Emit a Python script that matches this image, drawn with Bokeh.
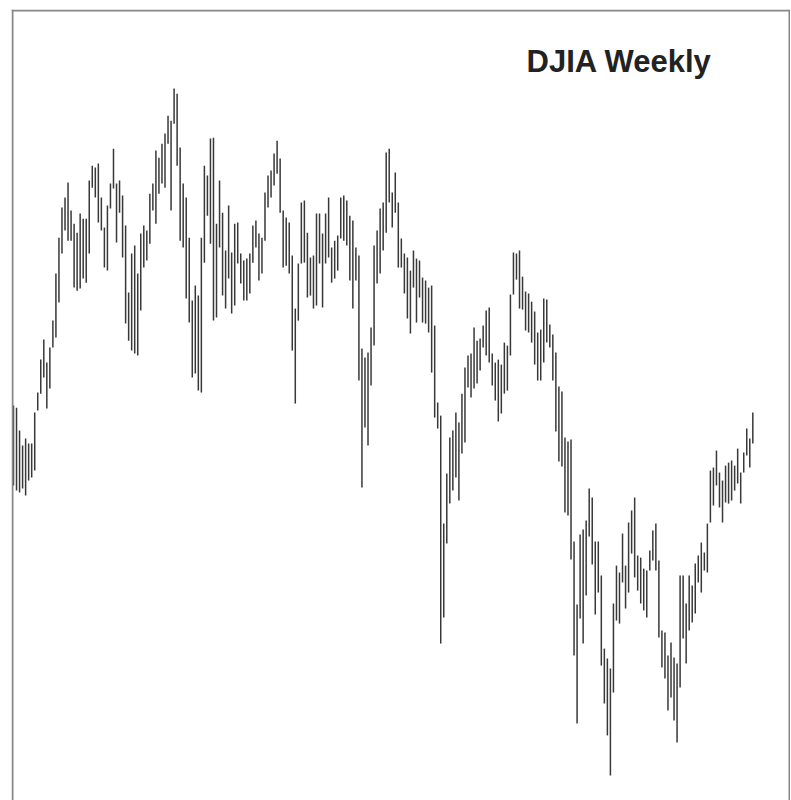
from bokeh.plotting import figure
from bokeh.models import Range1d, Label, Span
from bokeh.embed import file_html
from bokeh.resources import INLINE

# Weekly high / low of the DJIA, one entry per week
highs = [
    9645, 9631, 9479, 9379, 9426, 9392, 9392, 9598, 9731, 9950,
    10083, 9930, 10030, 10209, 10521, 10760, 10960, 11026, 11126, 10940,
    10853, 10793, 10920, 10886, 10886, 11139, 11238, 11225, 11252, 11026,
    10827, 10973, 11119, 11351, 11119, 11139, 11039, 10840, 10395, 10654,
    10707, 10521, 10787, 10840, 10807, 11052, 11119, 11338, 11291, 11384,
    11451, 11570, 11537, 11750, 11716, 11358, 11119, 11026, 10760, 10342,
    10442, 10375, 10760, 11238, 11172, 11418, 11424, 10853, 11139, 10926,
    10674, 10973, 10661, 10853, 10860, 10654, 10608, 10621, 10654, 10840,
    10873, 10787, 10760, 11059, 11172, 11205, 11318, 11404, 11285, 10940,
    10893, 10860, 10641, 10289, 10588, 10993, 11006, 10793, 10628, 10641,
    10920, 10920, 10787, 10920, 11026, 10694, 10740, 10774, 11026, 11039,
    11006, 10906, 10873, 10694, 10641, 10023, 9964, 9997, 10163, 10707,
    10807, 10953, 10993, 11325, 11351, 11059, 11192, 10993, 10754, 10654,
    10628, 10541, 10674, 10621, 10608, 10495, 10475, 10428, 10442, 10176,
    9665, 9578, 8861, 9193, 9432, 9479, 9598, 9532, 9724, 9897,
    9977, 9990, 10163, 10076, 10090, 10176, 10276, 10296, 9990, 9930,
    9950, 9917, 10063, 10043, 10382, 10661, 10654, 10674, 10501, 10402,
    10389, 10335, 10269, 10130, 10149, 10355, 10349, 10183, 10116, 9997,
    9771, 9738, 9432, 9406, 9419, 8742, 8323, 8788, 8821, 8881,
    9094, 9034, 8742, 8742, 8516, 8031, 7965, 7899, 8330, 8582,
    8536, 8795, 8582, 8868, 8948, 9034, 8649, 8635, 8562, 8549,
    8682, 8815, 8861, 8616, 8151, 8137, 7985, 8071, 7972, 7932,
    8516, 8516, 8330, 8516, 8450, 8596, 8649, 8735, 8669, 8861,
    9213, 9233, 9346, 9200, 9147, 9246, 9266, 9280, 9246, 9359,
    9200, 9333, 9492, 9426, 9598,
]

lows = [
    9114, 9080, 9067, 9094, 9047, 9147, 9167, 9213, 9612, 9724,
    9831, 9625, 9758, 10030, 10096, 10329, 10654, 10807, 10740, 10740,
    10428, 10408, 10422, 10488, 10461, 10654, 11092, 11026, 10860, 10807,
    10561, 10541, 10953, 11086, 10727, 10926, 10628, 10189, 10076, 10010,
    9990, 9977, 10276, 10561, 10608, 10720, 10940, 10853, 11052, 11119,
    11092, 11384, 10940, 11517, 11238, 10740, 10694, 10355, 10196, 9831,
    9857, 9744, 9731, 10594, 10906, 10720, 10209, 10229, 10694, 10375,
    10289, 10488, 10256, 10309, 10588, 10455, 10342, 10342, 10389, 10594,
    10694, 10475, 10521, 10740, 10960, 11026, 11106, 11185, 10926, 10561,
    10574, 10521, 10010, 9658, 10209, 10588, 10594, 10362, 10375, 10289,
    10309, 10588, 10296, 10588, 10628, 10461, 10488, 10541, 10754, 10740,
    10707, 10475, 10289, 10475, 9811, 9100, 9499, 9379, 9778, 10043,
    10455, 10521, 10674, 10793, 10993, 10827, 10926, 10561, 10561, 10389,
    10223, 10123, 10428, 10196, 10362, 10196, 10189, 10130, 9864, 9565,
    9492, 8064, 8237, 8728, 8994, 9080, 9167, 9014, 9326, 9399,
    9764, 9698, 9758, 9791, 9877, 10030, 9977, 9930, 9778, 9678,
    9539, 9592, 9724, 9744, 9977, 10382, 10481, 10289, 10282, 10143,
    10130, 10063, 9917, 9811, 9811, 9930, 10063, 10030, 9811, 9472,
    9273, 9240, 8934, 8914, 8622, 7985, 7533, 8230, 8064, 8383,
    8775, 8589, 8257, 8403, 7918, 7666, 7454, 7188, 7739, 8217,
    8197, 8470, 8297, 8403, 8662, 8503, 8416, 8330, 8284, 8237,
    8549, 8616, 8549, 8104, 7905, 7832, 7620, 7706, 7553, 7407,
    7772, 8098, 7932, 8151, 8204, 8264, 8470, 8403, 8549, 8536,
    8868, 8981, 9114, 8968, 8868, 9001, 8994, 9014, 9080, 9127,
    8994, 9200, 9313, 9233, 9392,
]

weeks = list(range(len(highs)))
title_text = "DJIA Weekly"

# ---- layout ----
W, H = 790, 800
ML, MR, MT, MB = 11, 0, 9, 0
frame_w = W - ML - MR
frame_h = H - MT - MB
step = 3.03          # pixels per week
first_off = 2.0      # pixels between frame edge and first bar
x_start = -first_off / step
x_end = x_start + frame_w / step
y_lo, y_hi = 7022, 12275
ppx = (y_hi - y_lo) / frame_h   # data units per vertical pixel

p = figure(width=W, height=H, output_backend="svg", toolbar_location=None,
           x_range=Range1d(x_start, x_end), y_range=Range1d(y_lo, y_hi),
           min_border_left=ML, min_border_right=MR,
           min_border_top=MT, min_border_bottom=MB,
           x_axis_location=None, y_axis_location=None)
p.grid.visible = False
p.outline_line_color = None
p.background_fill_color = "white"
p.border_fill_color = "white"

# frame border on left, top and right (bottom runs off the page)
border_color = "#888888"
p.add_layout(Span(location=x_start + 1 / step, dimension="height",
                  line_color=border_color, line_width=2))
p.add_layout(Span(location=x_end - 1 / step, dimension="height",
                  line_color=border_color, line_width=2))
p.add_layout(Span(location=y_hi - 1 * ppx, dimension="width",
                  line_color=border_color, line_width=2))

p.segment(x0=weeks, y0=lows, x1=weeks, y1=highs,
          line_color="#383838", line_width=1.5)

# title inside the frame, upper right
title_left_px = 515     # from frame left
title_base_px = 52      # from frame top
lab = Label(x=x_start + title_left_px / step,
            y=y_hi - title_base_px * ppx,
            text=title_text, text_font="Liberation Sans",
            text_font_size="31px", text_font_style="bold",
            text_color="#222222", text_align="left",
            text_baseline="alphabetic")
p.add_layout(lab)

open("out.html", "w").write(file_html(p, INLINE))
